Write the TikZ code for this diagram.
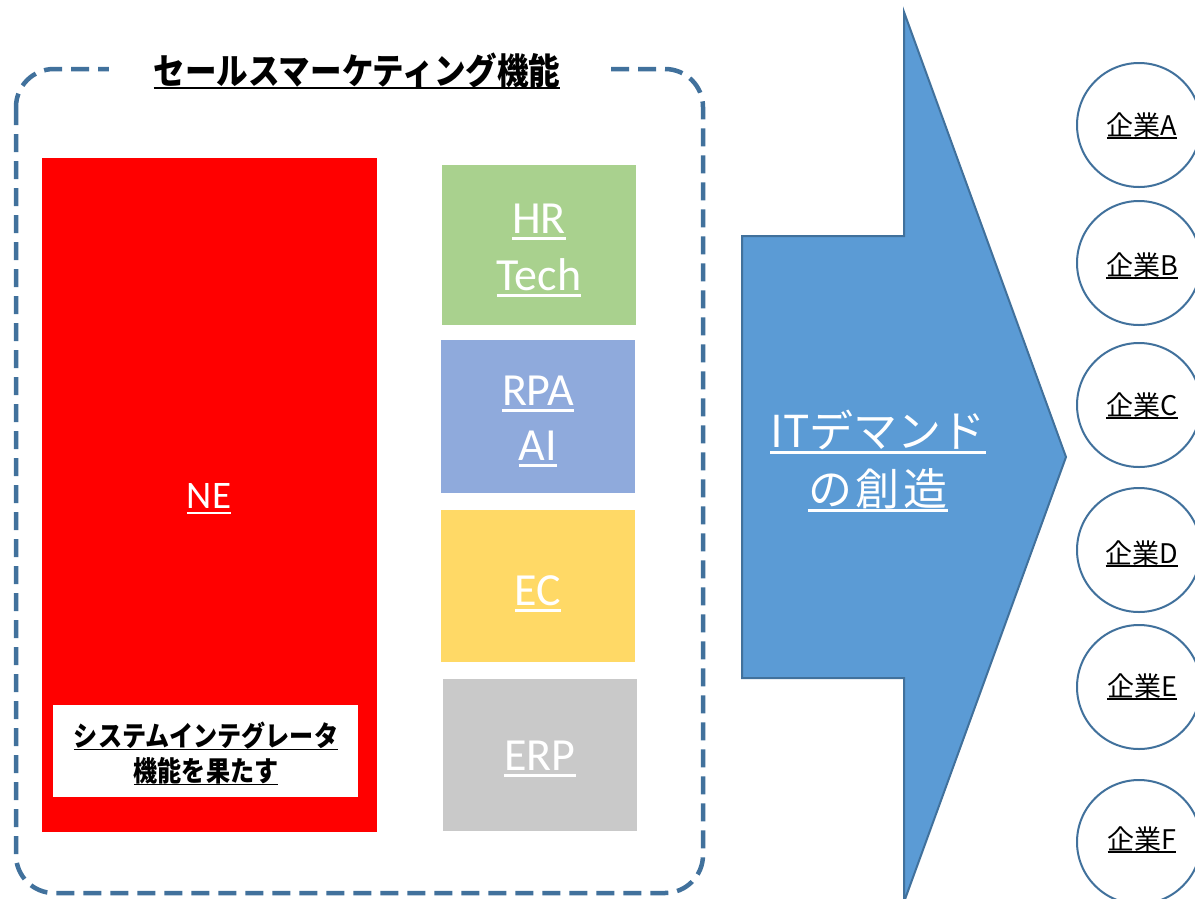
\documentclass[tikz,border=0pt]{standalone}
\usepackage{fontspec}
\usepackage{graphicx}
\setmainfont{Carlito}
\newfontfamily\jp{Noto Sans CJK JP}
\definecolor{nered}{HTML}{FF0000}
\definecolor{hrgreen}{HTML}{A9D18E}
\definecolor{rpablue}{HTML}{8FAADC}
\definecolor{ecyellow}{HTML}{FFD966}
\definecolor{erpgray}{HTML}{C9C9C9}
\definecolor{arrowfill}{HTML}{5B9BD5}
\definecolor{edgeblue}{HTML}{41719C}
\newcommand\myul[1]{\setbox0=\hbox{#1}\leavevmode\rlap{\rule[-0.15em]{\wd0}{0.06em}}\box0}
\tikzset{
  boxrect/.style={inner sep=0pt, outer sep=0pt, anchor=north west},
  wlabel/.style={text=white, anchor=base, inner sep=0pt, font=\fontsize{46}{54}\selectfont},
  firm/.style={circle, draw=edgeblue, line width=2pt, fill=white, minimum size=124pt, inner sep=0pt},
  firmtext/.style={anchor=base, inner sep=0pt, font=\jp\fontsize{27}{32}\selectfont},
}
\begin{document}
\begin{tikzpicture}[x=1pt,y=-1pt]
\useasboundingbox (0,0) rectangle (1195,898);
\fill[white] (0,0) rectangle (1195,898);
% dashed frame
\draw[edgeblue, line width=4.5pt, dash pattern=on 18pt off 9pt, rounded corners=38pt] (16,69) rectangle (703,893);
\node[fill=white, inner xsep=45pt, inner ysep=4pt, anchor=base, font=\jp\bfseries\fontsize{36}{40}\selectfont] (title) at (357,84) {\scalebox{0.876}[1]{\myul{セールスマーケティング機能}}};
% NE
\node[boxrect, fill=nered, minimum width=335pt, minimum height=674pt] (ne) at (42,158) {};
\node[wlabel, font=\fontsize{39}{46}\selectfont] (netext) at (209,508) {\myul{NE}};
\node[boxrect, fill=white, minimum width=305pt, minimum height=92pt] (si) at (53,705) {};
\node[anchor=base, inner sep=0pt, font=\jp\bfseries\fontsize{28}{32}\selectfont] (si1) at (206,746) {\scalebox{0.86}[1]{\myul{システムインテグレータ}}};
\node[anchor=base, inner sep=0pt, font=\jp\bfseries\fontsize{28}{32}\selectfont] (si2) at (206,781) {\scalebox{0.86}[1]{\myul{機能を果たす}}};
% right column
\node[boxrect, fill=hrgreen, minimum width=194pt, minimum height=160pt] (hr) at (442,165) {};
\node[wlabel] (hr1) at (539,233) {\myul{HR}};
\node[wlabel] (hr2) at (539,290) {\myul{Tech}};
\node[boxrect, fill=rpablue, minimum width=194pt, minimum height=153pt] (rpa) at (441,340) {};
\node[wlabel] (rpa1) at (538,405) {\myul{RPA}};
\node[wlabel] (rpa2) at (538,460) {\myul{AI}};
\node[boxrect, fill=ecyellow, minimum width=194pt, minimum height=152pt] (ec) at (441,510) {};
\node[wlabel] (ec1) at (538,605) {\myul{EC}};
\node[boxrect, fill=erpgray, minimum width=194pt, minimum height=152pt] (erp) at (443,679) {};
\node[wlabel] (erp1) at (540,770) {\myul{ERP}};
% big arrow
\draw[fill=arrowfill, draw=edgeblue, line width=2pt, line join=miter]
  (742,236) -- (904,236) -- (904,12) -- (1066,457) -- (904,902) -- (904,678) -- (742,678) -- cycle;
\node[anchor=base, inner sep=0pt, text=white, font=\jp\fontsize{44}{50}\selectfont] (it1) at (878,447) {\myul{ITデマンド}};
\node[anchor=base, inner sep=0pt, text=white, font=\jp\fontsize{44}{50}\selectfont] (it2) at (878,505) {\myul{の\hspace{4pt}創\hspace{4pt}造}};
% firms
\node[firm] (ca) at (1139,125) {};
\node[firm] (cb) at (1139,263) {};
\node[firm] (cc) at (1139,405) {};
\node[firm] (cd) at (1139,550) {};
\node[firm] (ce) at (1139,687) {};
\node[firm] (cf) at (1139,842) {};
\node[firmtext] (ta) at (1142,135) {\myul{企業A}};
\node[firmtext] (tb) at (1142,275) {\myul{企業B}};
\node[firmtext] (tc) at (1142,415) {\myul{企業C}};
\node[firmtext] (td) at (1142,563) {\myul{企業D}};
\node[firmtext] (te) at (1142,696) {\myul{企業E}};
\node[firmtext] (tf) at (1142,849) {\myul{企業F}};
\end{tikzpicture}
\end{document}
